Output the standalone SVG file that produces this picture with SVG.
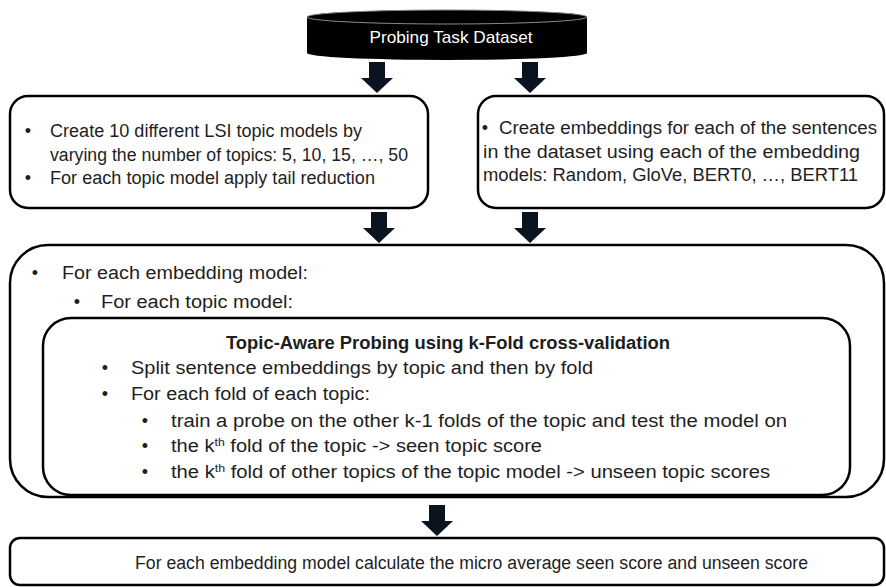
<svg xmlns="http://www.w3.org/2000/svg" width="886" height="587" viewBox="0 0 886 587">
<style>
.box{fill:#fff;stroke:#000;stroke-width:2.5}
.t{font-family:"Liberation Sans",Arial,sans-serif;font-size:18px;fill:#1e1e1e}
.b{font-weight:bold}
.w{fill:#fff;font-size:17px}
.sup{font-size:11px}
.arr{fill:#0b1220}
</style>
<defs>
<polygon id="arrow" points="-8,0 8,0 8,16 16,16 0,31 -16,16 -8,16"/>
</defs>
<g id="dataset">
<path d="M307,17 A140,7 0 0 1 587,17 L587,53 A140,7 0 0 1 307,53 Z" fill="#000"/>
<ellipse cx="447" cy="17" rx="140" ry="7" fill="#000" stroke="#8a8a8a" stroke-width="1"/>
<text class="t w" x="451" y="43" text-anchor="middle" textLength="163" lengthAdjust="spacingAndGlyphs">Probing Task Dataset</text>
</g>
<g id="connectors">
<use href="#arrow" class="arr" x="377" y="62"/>
<use href="#arrow" class="arr" x="530" y="62"/>
<use href="#arrow" class="arr" x="379" y="212"/>
<use href="#arrow" class="arr" x="530" y="212"/>
<use href="#arrow" class="arr" x="437" y="505"/>
</g>
<g id="topic-models">
<rect class="box" x="10" y="96" width="418" height="112" rx="18"/>
<text class="t" x="28" y="137" text-anchor="middle">•</text>
<text class="t" x="50" y="137" textLength="312" lengthAdjust="spacingAndGlyphs">Create 10 different LSI topic models by</text>
<text class="t" x="50" y="161" textLength="358" lengthAdjust="spacingAndGlyphs">varying the number of topics: 5, 10, 15, …, 50</text>
<text class="t" x="28" y="184" text-anchor="middle">•</text>
<text class="t" x="50" y="184" textLength="325" lengthAdjust="spacingAndGlyphs">For each topic model apply tail reduction</text>
</g>
<g id="embeddings">
<rect class="box" x="478" y="96" width="406" height="112" rx="18"/>
<text class="t" x="485" y="134" text-anchor="middle">•</text>
<text class="t" x="499" y="134" textLength="378" lengthAdjust="spacingAndGlyphs">Create embeddings for each of the sentences</text>
<text class="t" x="483" y="158" textLength="377" lengthAdjust="spacingAndGlyphs">in the dataset using each of the embedding</text>
<text class="t" x="483" y="181" textLength="375" lengthAdjust="spacingAndGlyphs">models: Random, GloVe, BERT0, …, BERT11</text>
</g>
<g id="loop">
<rect class="box" x="10" y="245" width="874" height="252" rx="38"/>
<text class="t" x="35" y="279" text-anchor="middle">•</text>
<text class="t" x="62" y="279" textLength="246" lengthAdjust="spacingAndGlyphs">For each embedding model:</text>
<text class="t" x="77" y="308" text-anchor="middle">•</text>
<text class="t" x="101" y="308" textLength="192" lengthAdjust="spacingAndGlyphs">For each topic model:</text>
</g>
<g id="probing">
<rect class="box" x="43" y="318" width="807" height="177" rx="28"/>
<text class="t b" x="226" y="349" textLength="444" lengthAdjust="spacingAndGlyphs">Topic-Aware Probing using k-Fold cross-validation</text>
<text class="t" x="105" y="374" text-anchor="middle">•</text>
<text class="t" x="131" y="374" textLength="462" lengthAdjust="spacingAndGlyphs">Split sentence embeddings by topic and then by fold</text>
<text class="t" x="105" y="400" text-anchor="middle">•</text>
<text class="t" x="131" y="400" textLength="239" lengthAdjust="spacingAndGlyphs">For each fold of each topic:</text>
<text class="t" x="145" y="427" text-anchor="middle">•</text>
<text class="t" x="171" y="427" textLength="616" lengthAdjust="spacingAndGlyphs">train a probe on the other k-1 folds of the topic and test the model on</text>
<text class="t" x="145" y="452" text-anchor="middle">•</text>
<text class="t" x="171" y="452" textLength="371" lengthAdjust="spacingAndGlyphs">the k<tspan class="sup" dy="-6">th</tspan><tspan class="t" dy="6"> fold of the topic -&gt; seen topic score</tspan></text>
<text class="t" x="145" y="478" text-anchor="middle">•</text>
<text class="t" x="171" y="478" textLength="599" lengthAdjust="spacingAndGlyphs">the k<tspan class="sup" dy="-6">th</tspan><tspan class="t" dy="6"> fold of other topics of the topic model -&gt; unseen topic scores</tspan></text>
</g>
<g id="average">
<rect class="box" x="10" y="538" width="874" height="47" rx="10"/>
<text class="t" x="135" y="569" textLength="673" lengthAdjust="spacingAndGlyphs">For each embedding model calculate the micro average seen score and unseen score</text>
</g>
</svg>
